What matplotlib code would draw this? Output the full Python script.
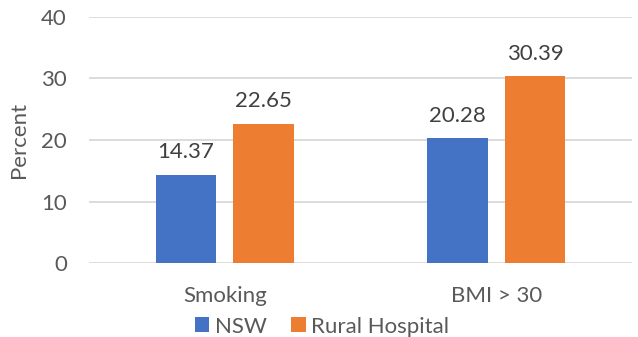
import matplotlib
matplotlib.use("Agg")
import matplotlib.pyplot as plt
import numpy as np

# data
categories = ["Smoking", "BMI > 30"]
nsw = [14.37, 20.28]
rural = [22.65, 30.39]
series_names = ["NSW", "Rural Hospital"]

plt.rcParams['font.family'] = ['Lato', 'DejaVu Sans']
txt = '#595959'
fs = 16

fig = plt.figure(figsize=(6.38, 3.37), dpi=100)
ax = fig.add_axes([89 / 638, 73.7 / 337, 543 / 638, 246.6 / 337])

x = np.arange(len(categories))
w = 0.2236
off = 0.1425
b1 = ax.bar(x - off, nsw, w, color='#4472C4', label=series_names[0], zorder=3)
b2 = ax.bar(x + off, rural, w, color='#ED7D31', label=series_names[1], zorder=3)

for bars, vals in [(b1, nsw), (b2, rural)]:
    for r, v in zip(bars, vals):
        ax.text(r.get_x() + r.get_width() / 2, v + 2.0, f"{v:.2f}",
                ha='center', va='bottom', fontsize=fs, color='#404040')

ax.set_xlim(-0.5, 1.5)
ax.set_ylim(0, 40)
ax.set_yticks([0, 10, 20, 30, 40])
ax.set_xticks(x)
ax.set_xticklabels(categories)
ax.yaxis.grid(True, color='#D9D9D9', linewidth=1.3, zorder=0)
ax.set_axisbelow(True)
for s in ax.spines.values():
    s.set_visible(False)
ax.tick_params(axis='both', length=0, labelsize=fs, labelcolor=txt)
ax.tick_params(axis='y', pad=16)
ax.tick_params(axis='x', pad=16)
ax.set_ylabel("Percent", fontsize=fs, color=txt, labelpad=9)

fig.legend(loc='lower center', bbox_to_anchor=(0.505, -0.058), ncol=2, frameon=False,
           fontsize=fs, handlelength=0.65, handleheight=0.65, handletextpad=0.25,
           columnspacing=1.1, labelcolor=txt)

fig.savefig("out.png", dpi=100)
